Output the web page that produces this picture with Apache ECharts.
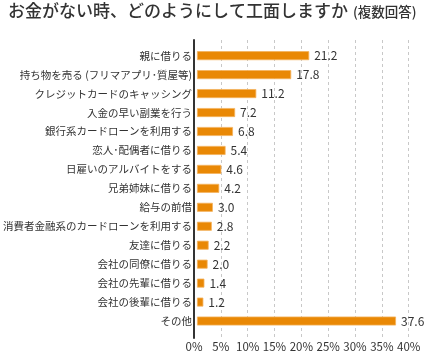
<!DOCTYPE html>
<html>
<head>
<meta charset="utf-8">
<script src="https://cdn.jsdelivr.net/npm/echarts@6/dist/echarts.min.js"></script>
<style>
html, body { margin: 0; padding: 0; background: #fff; }
#main { width: 443px; height: 353px; }
</style>
</head>
<body>
<div id="main"></div>
<script type="text/javascript">
	// 項目（上から順）
	var categories = ['親に借りる', '持ち物を売る (フリマアプリ･質屋等)', 'クレジットカードのキャッシング',
		'入金の早い副業を行う', '銀行系カードローンを利用する', '恋人･配偶者に借りる', '日雇いのアルバイトをする',
		'兄弟姉妹に借りる', '給与の前借', '消費者金融系のカードローンを利用する', '友達に借りる',
		'会社の同僚に借りる', '会社の先輩に借りる', '会社の後輩に借りる', 'その他'];
	// 割合(%)
	var values = [21.2, 17.8, 11.2, 7.2, 6.8, 5.4, 4.6, 4.2, 3.0, 2.8, 2.2, 2.0, 1.4, 1.2, 37.6];
	var xTicks = [0, 5, 10, 15, 20, 25, 30, 35, 40];

	var font = '"Noto Sans CJK JP", sans-serif';
	var myChart = echarts.init(document.getElementById('main'));
	var option = {
		animation : false,
		title : {
			text : '{a|お金がない時、どのようにして工面しますか}{b|(複数回答)}',
			left : 3,
			top : -3,
			textStyle : {
				rich : {
					a : { fontSize : 17, fontWeight : 500, color : '#333', fontFamily : font },
					b : { fontSize : 13.5, fontWeight : 500, color : '#333', fontFamily : font, padding : [2, 0, 0, 5] }
				}
			}
		},
		grid : [ {
			left : 194, right : 34.3, top : 46.2, height : 284.3
		}, {
			left : 194, right : 34.3, top : 40, height : 298
		} ],
		xAxis : [ {
			gridIndex : 0,
			type : 'value',
			min : xTicks[0],
			max : xTicks[xTicks.length - 1],
			show : false
		}, {
			gridIndex : 1,
			type : 'value',
			min : xTicks[0],
			max : xTicks[xTicks.length - 1],
			interval : xTicks[1] - xTicks[0],
			axisLine : { show : false },
			axisTick : { show : false },
			axisLabel : {
				formatter : '{value}%',
				margin : 3,
				fontSize : 11.5,
				color : '#333',
				fontFamily : font
			},
			splitLine : {
				show : true,
				lineStyle : { color : '#c8c8c8', type : [3, 3] }
			}
		} ],
		yAxis : [ {
			gridIndex : 0,
			type : 'category',
			inverse : true,
			data : categories,
			axisLine : { show : false },
			axisTick : { show : false },
			axisLabel : {
				margin : 5,
				fontSize : 10.5,
				color : '#333',
				fontFamily : font
			}
		}, {
			gridIndex : 1,
			type : 'value',
			min : 0,
			max : 1,
			axisLine : { show : true, lineStyle : { color : '#333', width : 2 } },
			axisTick : { show : false },
			axisLabel : { show : false },
			splitLine : { show : false }
		} ],
		series : [ {
			type : 'bar',
			xAxisIndex : 0,
			yAxisIndex : 0,
			data : values,
			barWidth : 9,
			itemStyle : {
				color : '#E98805',
				borderColor : '#F4B35E',
				borderWidth : 0.8
			},
			label : {
				show : true,
				position : 'right',
				distance : 5,
				fontSize : 12,
				color : '#333',
				fontFamily : font,
				formatter : function(p) {
					return p.value.toFixed(1);
				}
			}
		} ]
	};
	myChart.setOption(option);
</script>
</body>
</html>
